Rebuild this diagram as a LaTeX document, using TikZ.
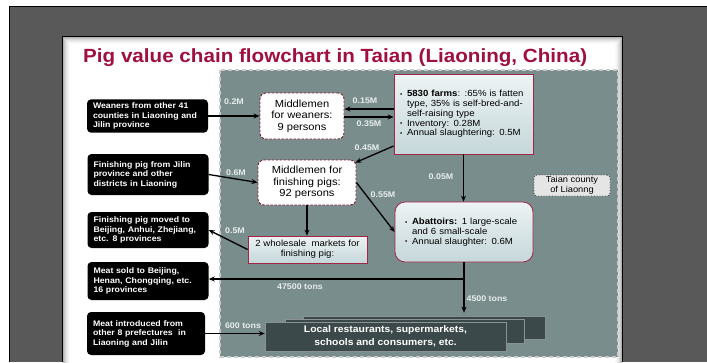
\documentclass[tikz,border=0pt]{standalone}
\usepackage{fontspec}
\setmainfont{Liberation Sans}[FakeStretch=1.08]
\usetikzlibrary{arrows.meta}
\definecolor{bgdark}{HTML}{595959}
\definecolor{panel}{HTML}{788D8C}
\definecolor{titlered}{HTML}{A0103E}
\definecolor{boxred}{HTML}{A32445}
\definecolor{slate}{HTML}{3C494A}
\definecolor{amountcol}{HTML}{E8EDED}
\definecolor{infotop}{HTML}{EDF3F4}
\definecolor{infobot}{HTML}{C5D7DA}
\newcommand{\bul}{\makebox[7pt][l]{\raisebox{0.6pt}{\fontsize{6}{6}\selectfont\textbullet}}}
\begin{document}
\begin{tikzpicture}[x=1pt,y=-1pt,
  srcbox/.style={fill=black,rounded corners=4pt,text=white,align=left,
    font=\bfseries\fontsize{8.1}{9.5}\selectfont,text width=109pt,inner xsep=6pt,minimum width=121pt},
  midbox/.style={draw=boxred!80!black,line width=0.9pt,dash pattern=on 2.5pt off 1.5pt,fill=white,
    rounded corners=6pt,align=center,font=\fontsize{10.3}{11.5}\selectfont,inner sep=1pt},
  infobox/.style={draw=boxred,line width=0.8pt,top color=infotop,bottom color=infobot,
    align=left,font=\fontsize{8.9}{9.7}\selectfont,inner xsep=6pt},
  flow/.style={-{Stealth[length=6pt,width=5pt]},line width=1.3pt},
  amount/.style={text=amountcol,font=\bfseries\fontsize{8.2}{9}\selectfont,inner sep=0pt},
  localbox/.style={fill=slate,draw=slate!60!white,line width=0.6pt}]
 \useasboundingbox (0,0) rectangle (707,362);
 % backdrop and slide
 \fill[white] (0,0) rectangle (707,362);
 \fill[bgdark] (10,7) rectangle (707,362);
 \draw[black,line width=1pt] (9.5,362) -- (9.5,6.5) -- (707,6.5);
 \fill[white] (62,36) rectangle (622,362);
 \foreach \i/\o in {1/.30,2/.22,3/.16,4/.11,5/.07,6/.04,7/.02}
   \draw[black,opacity=\o] (62+\i,36+\i) rectangle (622-\i,370);
 \draw[black,line width=1pt] (62,362) |- (622,36) -- (622,362);
 \fill[panel] (220,70) rectangle (618,357);
 \draw[black!20,dash pattern=on 4pt off 3pt,line width=1.2pt] (220,70) rectangle (618,357);
 \node[anchor=base west,text=titlered,font=\bfseries\fontsize{19.1}{22}\selectfont,inner sep=0pt]
   (title) at (83,62) {Pig value chain flowchart in Taian (Liaoning, China)};
 % sources and destinations
 \node[srcbox,minimum height=32pt] (wean) at (147.5,116) {Weaners from other 41\\counties in Liaoning and\\Jilin province};
 \node[srcbox,minimum height=41pt] (fin) at (148,174.5) {Finishing pig from Jilin\\province and other\\districts in Liaoning};
 \node[srcbox,minimum height=36pt] (moved) at (148,230) {Finishing pig moved to\\Beijing, Anhui, Zhejiang,\\etc. 8 provinces};
 \node[srcbox,minimum height=38pt] (sold) at (148,281) {Meat sold to Beijing,\\Henan, Chongqing, etc.\\16 provinces};
 \node[srcbox,minimum height=43pt,minimum width=118pt,text width=106pt] (intro) at (146,333.5) {Meat introduced from\\other 8 prefectures \ in\\Liaoning and Jilin};
 % actors in the county
 \node[midbox,minimum width=84pt,minimum height=46pt] (mw) at (302,116) {Middlemen\\for weaners:\\9 persons};
 \node[midbox,minimum width=98pt,minimum height=45pt] (mf) at (307,182.5) {Middlemen for\\finishing pigs:\\92 persons};
 \node[infobox,minimum width=139pt,minimum height=80pt,text width=127pt] (farms) at (463.5,114)
   {\bul\textbf{5830 farms}: :65\% is fatten\\\hspace*{7pt}type, 35\% is self-bred-and-\\\hspace*{7pt}self-raising type\\\bul Inventory: 0.28M\\\bul Annual slaughtering: 0.5M};
 \node[infobox,rounded corners=10pt,minimum width=138pt,minimum height=60pt,text width=118pt,inner xsep=10pt] (abat) at (464,232)
   {\bul\textbf{Abattoirs:} 1 large-scale\\\hspace*{7pt}and 6 small-scale\\\bul Annual slaughter: 0.6M};
 \node[infobox,align=center,minimum width=119pt,minimum height=27pt,inner sep=1pt] (ws) at (307.5,249.5) {2 wholesale \ markets for\\finishing pig:};
 \node[draw=black!75,dotted,thick,fill=gray!20,rounded corners=3pt,align=center,
   font=\fontsize{8.6}{10}\selectfont,minimum width=76pt,minimum height=21pt,inner sep=1pt] (taian) at (572,185.5) {Taian county\\of Liaonng};
 \node[localbox,minimum width=242pt,minimum height=23pt] (back) at (424,327.5) {};
 \node[localbox,minimum width=239pt,minimum height=24pt] (mid) at (404.5,331) {};
 \node[localbox,minimum width=241pt,minimum height=29pt,text=white,align=center,
   font=\bfseries\fontsize{9.6}{13}\selectfont] (local) at (385.5,336.5) {Local restaurants, supermarkets,\\schools and consumers, etc.};
 % flows
 \draw[flow] (wean.east) -- (mw.west);
 \draw[flow] ([yshift=5pt]farms.west) -- ([yshift=7pt]mw.east);
 \draw[flow] ([yshift=-1pt]mw.east) -- ([yshift=-3pt]farms.west);
 \draw[flow] ([yshift=-32pt]farms.west) -- ([xshift=-1pt,yshift=-3pt]mf.north east);
 \draw[flow] (fin.east) -- (mf.west);
 \draw[flow] (mf.east) -- (abat.west);
 \draw[flow] (mf.south) -- (mf.south |- ws.north);
 \draw[flow] (ws.west) -- (moved.east);
 \draw[flow] (farms.south) -- (farms.south |- abat.north);
 \draw[flow] (abat.south) |- ([yshift=2pt]sold.east);
 \draw[flow,shorten >=3pt] (abat.south) -- (abat.south |- back.north);
 \draw[flow] (intro.east) -- (intro.east -| local.west);
 % amounts
 \node[amount] (a1) at (234,102) {0.2M};
 \node[amount] (a2) at (365,101) {0.15M};
 \node[amount] (a3) at (369,124) {0.35M};
 \node[amount] (a4) at (367,148) {0.45M};
 \node[amount] (a5) at (236,173) {0.6M};
 \node[amount] (a6) at (383,195) {0.55M};
 \node[amount] (a7) at (441,177) {0.05M};
 \node[amount] (a8) at (235,231) {0.5M};
 \node[amount] (a9) at (300,287) {47500 tons};
 \node[amount] (a10) at (487,299) {4500 tons};
 \node[amount] (a11) at (243,326) {600 tons};
\end{tikzpicture}
\end{document}
